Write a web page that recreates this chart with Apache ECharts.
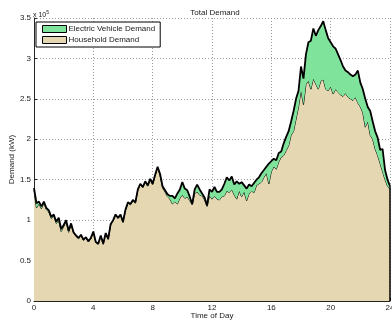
<!DOCTYPE html>
<html>
<head>
<meta charset="utf-8">
<script src="https://cdn.jsdelivr.net/npm/echarts@6/dist/echarts.min.js"></script>
<style>
  html, body { margin: 0; padding: 0; background: #fff; }
  #chart { width: 392px; height: 327px; }
</style>
</head>
<body>
<div id="chart"></div>
<script>
// Demand sampled every 10 minutes over a day (145 samples, 00:00 .. 24:00), in kW
const SAMPLES_PER_HOUR = 6;
const HOURS_PER_TICK = 4;

const householdDemand = [
  137000, 115000, 120000, 114000, 121000, 113000, 110000, 102000, 105000, 96000,
  99000, 86000, 92000, 98000, 85000, 94000, 84000, 80000, 77000, 81000,
  75000, 78000, 73000, 77000, 85000, 72000, 70000, 80000, 70000, 83000,
  76000, 94000, 99000, 106000, 102000, 106000, 97000, 112000, 121000, 119000,
  124000, 121000, 137000, 144000, 140000, 147000, 142000, 150000, 144000, 155000,
  165000, 155000, 140000, 135000, 129000, 126000, 120000, 123000, 120000, 127000,
  131000, 127000, 129000, 124000, 119000, 133000, 135000, 131000, 130000, 125000,
  117000, 130000, 126000, 130000, 126000, 125000, 129000, 130000, 136000, 134000,
  138000, 131000, 126000, 136000, 129000, 135000, 124000, 133000, 136000, 134000,
  143000, 145000, 147000, 153000, 158000, 145000, 160000, 166000, 163000, 172000,
  178000, 180000, 186000, 192000, 205000, 210000, 225000, 240000, 260000, 243000,
  268000, 272000, 262000, 275000, 268000, 262000, 272000, 274000, 262000, 260000,
  265000, 256000, 262000, 258000, 255000, 253000, 257000, 252000, 250000, 248000,
  252000, 245000, 240000, 233000, 215000, 222000, 205000, 200000, 188000, 180000,
  170000, 160000, 150000, 142000, 138000
];

const evDemand = [
  3000, 6000, 3000, 3000, 2000, 2000, 2000, 2000, 2000, 2000,
  4000, 3000, 2000, 2000, 2000, 2000, 1000, 1000, 1000, 1000,
  1000, 1000, 1000, 1000, 1000, 1000, 1000, 1000, 1000, 1000,
  1000, 1000, 1000, 1000, 1000, 1000, 1000, 1000, 1000, 1000,
  1000, 1000, 1000, 1000, 1000, 1000, 1000, 1000, 1000, 1000,
  1000, 2000, 2000, 2000, 3000, 4000, 10000, 4000, 13000, 11000,
  16000, 12000, 8000, 5000, 1000, 5000, 9000, 7000, 3000, 3000,
  1000, 8000, 9000, 11000, 9000, 10000, 9000, 15000, 17000, 15000,
  16000, 13000, 22000, 9000, 18000, 8000, 15000, 11000, 6000, 12000,
  7000, 8000, 11000, 9000, 8000, 25000, 13000, 10000, 11000, 11000,
  7000, 15000, 17000, 18000, 17000, 25000, 25000, 20000, 30000, 32000,
  37000, 48000, 60000, 62000, 60000, 73000, 68000, 72000, 73000, 65000,
  55000, 59000, 50000, 47000, 43000, 37000, 28000, 31000, 30000, 30000,
  28000, 40000, 30000, 29000, 35000, 18000, 30000, 22000, 22000, 22000,
  17000, 28000, 12000, 8000, 4000
];

const seriesNames = ['Electric Vehicle Demand', 'Household Demand'];
const yTickLabels = ['0', '0.5', '1', '1.5', '2', '2.5', '3', '3.5'];
const Y_STEP = 50000;

const COLOR_EV = '#80e39b';
const COLOR_HOUSE = '#e5d7b1';
const FONT = '"Liberation Sans", Arial, Helvetica, sans-serif';
const TEXT = '#1a1a1a';

// sample times in hours, one per category slot
const hours = householdDemand.map((_, i) => i / SAMPLES_PER_HOUR);
const tickEvery = SAMPLES_PER_HOUR * HOURS_PER_TICK;
const onTick = idx => idx % tickEvery === 0;
const lastIdx = householdDemand.length - 1;
const endTotal = householdDemand[lastIdx] + evDemand[lastIdx];

const chart = echarts.init(document.getElementById('chart'), null, { renderer: 'canvas' });

const gridLine = { color: '#9a9a9a', width: 1, type: [1, 2] };

chart.setOption({
  animation: false,
  backgroundColor: '#fff',
  title: {
    text: 'Total Demand',
    left: 210,
    top: 4,
    textAlign: 'center',
    textStyle: { fontFamily: FONT, fontSize: 8, fontWeight: 'normal', color: TEXT }
  },
  graphic: [{
    type: 'text',
    left: 33,
    top: 10,
    style: {
      text: '{b|x 10}{s|5}',
      rich: {
        b: { fontFamily: FONT, fontSize: 7, fill: TEXT, verticalAlign: 'bottom' },
        s: { fontFamily: FONT, fontSize: 5, fill: TEXT, verticalAlign: 'top', padding: [0, 0, 4, 0] }
      }
    }
  }],
  legend: {
    data: seriesNames,
    orient: 'vertical',
    left: 36,
    top: 22,
    icon: 'rect',
    itemWidth: 24,
    itemHeight: 7,
    itemGap: 3,
    padding: [3, 5, 3, 6],
    backgroundColor: '#fff',
    borderColor: '#000',
    borderWidth: 1,
    borderRadius: 0,
    itemStyle: { borderColor: '#000', borderWidth: 1 },
    textStyle: { fontFamily: FONT, fontSize: 8, color: TEXT, padding: [0, 0, 0, -3] }
  },
  grid: { left: 34, right: 2, top: 18, bottom: 26, containLabel: false, outerBoundsMode: 'none' },
  xAxis: {
    type: 'category',
    data: hours,
    boundaryGap: false,
    name: 'Time of Day',
    nameLocation: 'middle',
    nameGap: 11,
    nameMoveOverlap: false,
    nameTextStyle: { fontFamily: FONT, fontSize: 8, color: TEXT, verticalAlign: 'top' },
    axisLine: { show: true, onZero: false, lineStyle: { color: '#222', width: 1 } },
    axisTick: { show: true, inside: true, length: 3, interval: onTick, lineStyle: { color: '#222' } },
    axisLabel: {
      fontFamily: FONT, fontSize: 8, color: TEXT, margin: 3,
      interval: onTick, showMinLabel: true, showMaxLabel: true,
      formatter: v => String(v)
    },
    splitLine: { show: true, interval: onTick, lineStyle: gridLine }
  },
  yAxis: {
    type: 'value',
    min: 0,
    max: Y_STEP * (yTickLabels.length - 1),
    interval: Y_STEP,
    name: 'Demand (kW)',
    nameLocation: 'middle',
    nameGap: 18,
    nameMoveOverlap: false,
    nameTextStyle: { fontFamily: FONT, fontSize: 8, color: TEXT },
    axisLine: { show: true, lineStyle: { color: '#222', width: 1 } },
    axisTick: { show: true, inside: true, length: 3, lineStyle: { color: '#222' } },
    axisLabel: {
      fontFamily: FONT, fontSize: 8, color: TEXT, margin: 3,
      formatter: v => yTickLabels[Math.round(v / Y_STEP)]
    },
    splitLine: { show: true, lineStyle: gridLine }
  },
  series: [
    {
      name: seriesNames[1],
      type: 'line',
      stack: 'total',
      data: householdDemand,
      symbol: 'none',
      smooth: false,
      itemStyle: { color: COLOR_HOUSE },
      lineStyle: { color: '#000', width: 1 },
      areaStyle: { color: COLOR_HOUSE, opacity: 1 },
      z: 2,
      markLine: {
        silent: true,
        symbol: 'none',
        label: { show: false },
        lineStyle: { color: '#000', width: 1.5, type: 'solid' },
        data: [[{ coord: [lastIdx, 0] }, { coord: [lastIdx, endTotal] }]]
      }
    },
    {
      name: seriesNames[0],
      type: 'line',
      stack: 'total',
      data: evDemand,
      symbol: 'none',
      smooth: false,
      itemStyle: { color: COLOR_EV },
      lineStyle: { color: '#000', width: 1.8 },
      areaStyle: { color: COLOR_EV, opacity: 1 },
      z: 3
    }
  ]
});
</script>
</body>
</html>
